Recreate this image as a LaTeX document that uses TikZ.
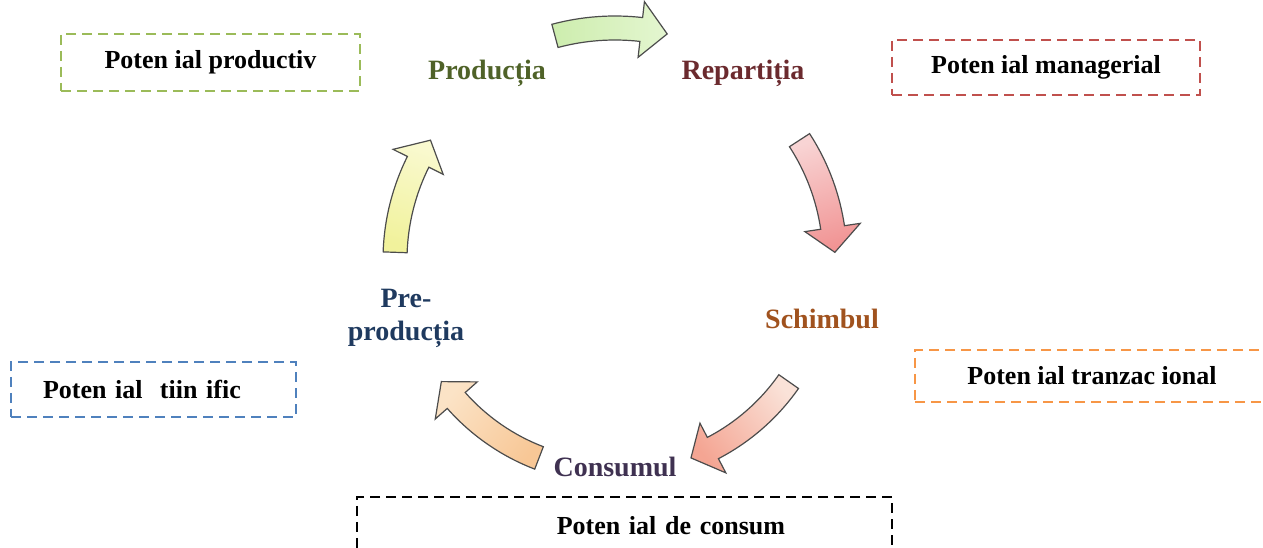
\documentclass[tikz,border=0pt]{standalone}
\usepackage{fontspec}
\setmainfont{Liberation Serif}

\definecolor{potgreen}{HTML}{9BBB59}
\definecolor{potred}{HTML}{C0504D}
\definecolor{potorange}{HTML}{F79646}
\definecolor{potblue}{HTML}{4F81BD}
\definecolor{prodcol}{HTML}{4F6228}
\definecolor{repcol}{HTML}{6B2A2E}
\definecolor{schcol}{HTML}{A0521E}
\definecolor{conscol}{HTML}{3F3151}
\definecolor{precol}{HTML}{1F3A5F}
\definecolor{greentail}{HTML}{CDEDAE}
\definecolor{greentip}{HTML}{E4F6D0}
\definecolor{pinktail}{HTML}{F8D4D4}
\definecolor{pinktip}{HTML}{F19494}
\definecolor{salmontail}{HTML}{FAE2D8}
\definecolor{salmontip}{HTML}{F4A593}
\definecolor{peachtail}{HTML}{F8C796}
\definecolor{peachtip}{HTML}{FBE3C6}
\definecolor{yellowtail}{HTML}{F1F29C}
\definecolor{yellowtip}{HTML}{F9F9CF}

\tikzset{pot/.style={draw, dash pattern=on 10pt off 6pt, line width=2.8pt, font=\fontsize{26}{28}\selectfont\bfseries, minimum height=55pt}}
\tikzset{lbl/.style={font=\fontsize{28}{33}\selectfont\bfseries, align=center}}
\tikzset{cycarrow/.style={draw=gray!60!black, line width=1.2pt}}

\newcommand{\cycarrow}[5]{%
  \pgfmathsetmacro\arcout{#3+12}\pgfmathsetmacro\arcin{#3-12}%
  \pgfmathsetmacro\headout{#3+28}\pgfmathsetmacro\headin{#3-28}%
  \pgfmathsetmacro\headang{#2+6.5}\pgfmathsetmacro\midang{(#1+#2)/2}%
  \shadedraw[cycarrow, left color=#4, right color=#5, shading angle=\midang, shift={(c)}]
    (#1:\arcout) arc[start angle=#1, end angle=\headang, radius=\arcout] -- (\headang:\headout) -- (#2:#3)
    -- (\headang:\headin) -- (\headang:\arcin) arc[start angle=\headang, end angle=#1, radius=\arcin] -- cycle;}

\begin{document}
\begin{tikzpicture}[x=1pt,y=1pt]
    \useasboundingbox (0,0) rectangle (1263,548);
    \coordinate (c) at (615,288);

    \cycarrow{105}{77}{232}{greentail}{greentip}
    \cycarrow{33}{2}{220}{pinktail}{pinktip}
    \cycarrow{-35}{-69}{212}{salmontail}{salmontip}
    \cycarrow{-111}{-145}{212}{peachtail}{peachtip}
    \cycarrow{178}{147}{220}{yellowtail}{yellowtip}

    \node[lbl, text=prodcol] (prod) at (487,475) {Producția};
    \node[lbl, text=repcol] (rep) at (743,475) {Repartiția};
    \node[lbl, text=schcol] (sch) at (822,229) {Schimbul};
    \node[lbl, text=conscol] (cons) at (615,81) {Consumul};
    \node[lbl, text=precol] (pre) at (406,230) {Pre-\\producția};

    \node[pot, potgreen, text=black, minimum width=299pt, minimum height=57pt] (pprod) at (210.5,485.5) {Poten ial productiv};
    \node[pot, potred, text=black, minimum width=308pt] (pman) at (1046,480.5) {Poten ial managerial};
    \node[pot, potorange, text=black, minimum width=354pt, minimum height=52pt] (ptr) at (1092,172) {Poten ial tranzac ional};
    \node[pot, potblue, text=black, minimum width=285pt, text width=221pt, inner xsep=32pt, align=left] (pst) at (153.5,158.5) {Poten ial \ tiin ific};
    \node[pot, black, minimum width=535pt, minimum height=57pt, text width=321pt, inner xsep=107pt, align=right] (pcons) at (624.5,22.5) {Poten ial de consum};
\end{tikzpicture}
\end{document}
